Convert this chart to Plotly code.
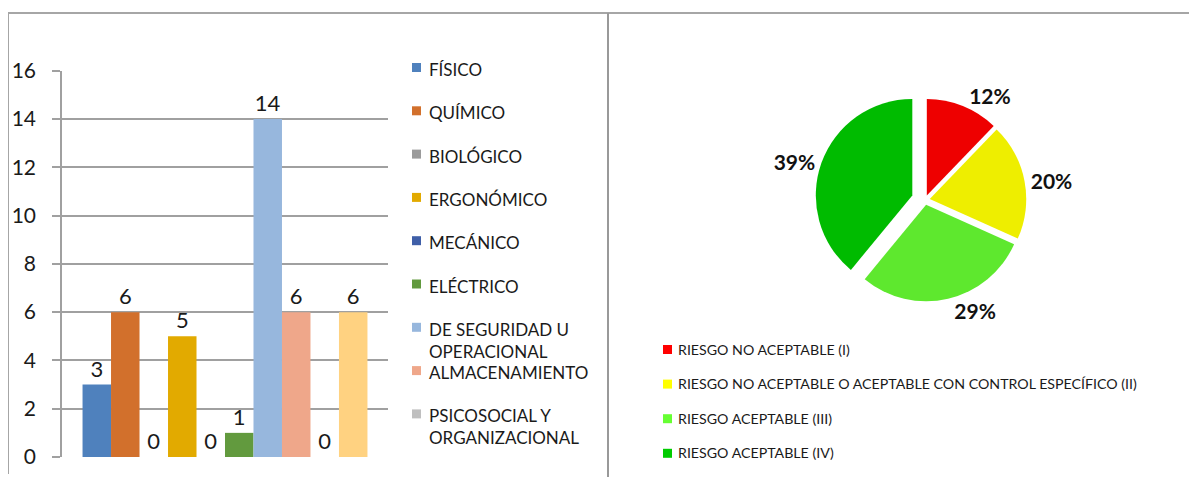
import plotly.graph_objects as go

W, H = 1197, 477
OFF = 8  # page body margin offset of the rendered figure

# ---- data ----
bar_names = ["FÍSICO", "QUÍMICO", "BIOLÓGICO", "ERGONÓMICO", "MECÁNICO", "ELÉCTRICO",
             "DE SEGURIDAD U<br>OPERACIONAL", "ALMACENAMIENTO", "PSICOSOCIAL Y<br>ORGANIZACIONAL", "LOCATIVO"]
bar_values = [3, 6, 0, 5, 0, 1, 14, 6, 0, 6]
bar_colors = ["#4F81BD", "#D2702C", "#9B9B9B", "#E2AA00", "#3F5FA8", "#629A3E",
              "#97B7DD", "#EFA78A", "#BFBFBF", "#FFD281"]
bar_in_legend = [True] * 9 + [False]

pie_labels = ["RIESGO NO ACEPTABLE (I)",
              "RIESGO NO ACEPTABLE O ACEPTABLE CON CONTROL ESPECÍFICO (II)",
              "RIESGO ACEPTABLE (III)",
              "RIESGO ACEPTABLE (IV)"]
pie_values = [5, 8, 12, 16]
pie_colors = ["#EE0000", "#EEEE00", "#5EE82E", "#00BB00"]
pie_legend_colors = ["#FF0000", "#FFFF00", "#66FF33", "#00CC00"]
pie_pull = [0.05, 0.05, 0.05, 0.14]

FONT = "Lato"
GRID = "#A0A0A0"


def px(x):
    return (x - OFF) / W


def py(y):
    return 1 - (y - OFF) / H


fig = go.Figure()

for name, val, col in zip(bar_names, bar_values, bar_colors):
    fig.add_trace(go.Bar(
        x=["riesgos"], y=[val], name=name.replace("<br>", " "),
        marker=dict(color=col, line=dict(width=0)),
        text=[val], textposition="outside", cliponaxis=False,
        textfont=dict(family=FONT, size=22, color="#1a1a1a"),
        showlegend=False,
    ))

fig.add_trace(go.Pie(
    labels=pie_labels, values=pie_values, sort=False, direction="clockwise", rotation=0,
    marker=dict(colors=pie_colors, line=dict(width=0)),
    pull=pie_pull, textposition="outside", texttemplate="%{percent:.0%}",
    textfont=dict(family=FONT, size=21, color="#111111", weight="bold"),
    domain=dict(x=[px(815), px(1035)], y=[py(310), py(90)]),
    showlegend=False, automargin=False,
))

shapes = [
    dict(type="line", xref="paper", yref="paper", x0=px(8), x1=px(1197), y0=py(13), y1=py(13),
         line=dict(color="#A6A6A6", width=2)),
    dict(type="line", xref="paper", yref="paper", x0=px(8), x1=px(8), y0=py(13), y1=py(474),
         line=dict(color="#A6A6A6", width=2)),
    dict(type="line", xref="paper", yref="paper", x0=px(608), x1=px(608), y0=py(13), y1=py(480),
         line=dict(color="#999999", width=2)),
]
annotations = []

# bar legend
row_y = 68
for name, col, show in zip(bar_names, bar_colors, bar_in_legend):
    if not show:
        continue
    shapes.append(dict(type="rect", xref="paper", yref="paper",
                       x0=px(412), x1=px(421), y0=py(row_y - 5), y1=py(row_y + 4),
                       fillcolor=col, line=dict(width=0)))
    annotations.append(dict(xref="paper", yref="paper", x=px(427), y=py(row_y - 11),
                            xanchor="left", yanchor="top", align="left", showarrow=False,
                            text=name, font=dict(family=FONT, size=17, color="#1a1a1a")))
    row_y += 43.3

# pie legend
row_y = 349
for lab, col in zip(pie_labels, pie_legend_colors):
    shapes.append(dict(type="rect", xref="paper", yref="paper",
                       x0=px(663), x1=px(672), y0=py(row_y - 4), y1=py(row_y + 5),
                       fillcolor=col, line=dict(width=0)))
    annotations.append(dict(xref="paper", yref="paper", x=px(676), y=py(row_y),
                            xanchor="left", yanchor="middle", showarrow=False,
                            text=lab, font=dict(family=FONT, size=14.2, color="#1a1a1a")))
    row_y += 34.6

fig.update_layout(
    width=W, height=H, autosize=False, margin=dict(l=0, r=0, t=0, b=0, pad=0, autoexpand=False),
    paper_bgcolor="white", plot_bgcolor="white",
    barmode="group", bargap=0.126, bargroupgap=0,
    font=dict(family=FONT, color="#1a1a1a"),
    xaxis=dict(domain=[px(62), px(388)], showticklabels=False, showgrid=False,
               zeroline=False, showline=False, ticks="", automargin=False),
    yaxis=dict(domain=[py(457), py(70.7)], range=[0, 16], dtick=2, showgrid=True,
               gridcolor=GRID, gridwidth=1.5, zeroline=False, showline=True,
               linecolor=GRID, linewidth=1.5, ticks="outside", ticklen=8, tickcolor=GRID,
               tickwidth=1.5, ticklabelstandoff=12, automargin=False,
               tickfont=dict(family=FONT, size=21, color="#1a1a1a")),
    shapes=shapes, annotations=annotations,
)

fig.write_html("out.html")
